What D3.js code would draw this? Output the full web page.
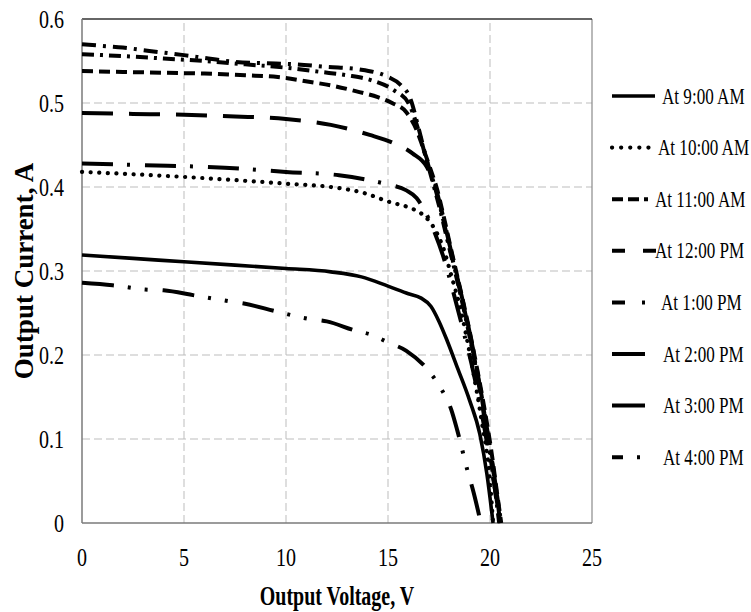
<!DOCTYPE html>
<html>
<head>
<meta charset="utf-8">
<script src="https://cdn.jsdelivr.net/npm/d3@7"></script>
<style>
  html, body { margin: 0; padding: 0; background: #fff; }
  svg { display: block; }
  text { font-family: "Liberation Serif", "Times New Roman", serif; fill: #000; }
</style>
</head>
<body>
<svg id="chart" width="751" height="612"></svg>
<script>
// I-V curves of a PV module measured at different hours of the day
const xTicks = [0, 5, 10, 15, 20, 25];
const yTicks = [0, 0.1, 0.2, 0.3, 0.4, 0.5, 0.6];
const yTickLabels = ["0", "0.1", "0.2", "0.3", "0.4", "0.5", "0.6"];
const seriesNames = ["At 9:00 AM", "At 10:00 AM", "At 11:00 AM", "At 12:00 PM",
                     "At 1:00 PM", "At 2:00 PM", "At 3:00 PM", "At 4:00 PM"];

// Output voltage (V) / output current (A) samples per hour
const v0900 = [0, 2.5, 5, 7.5, 10, 12.2, 13.7, 15, 16, 16.6, 17.1, 17.5, 17.9, 18.4, 19.0, 19.5, 19.85, 20.15];
const i0900 = [0.319, 0.315, 0.311, 0.307, 0.303, 0.299, 0.293, 0.282, 0.273, 0.268, 0.258, 0.240, 0.217, 0.185, 0.146, 0.106, 0.058, 0.0];

const v1000 = [0, 5, 10, 12.2, 13.8, 15.1, 16.1, 16.6, 17.1, 17.4, 17.7, 18.1, 18.6, 19.1, 19.6, 20.0, 20.15];
const i1000 = [0.418, 0.412, 0.404, 0.400, 0.393, 0.382, 0.375, 0.369, 0.357, 0.345, 0.328, 0.295, 0.250, 0.190, 0.120, 0.050, 0.0];

const v1100 = [0, 2, 4, 6, 8, 9.6, 11.2, 12.2, 13.6, 14.5, 15.2, 15.9, 16.4, 16.7, 17.1, 17.4, 17.7, 18.1, 18.5, 18.9, 19.3, 19.7, 20.1, 20.35, 20.55];
const i1100 = [0.538, 0.537, 0.536, 0.535, 0.533, 0.531, 0.525, 0.521, 0.513, 0.507, 0.500, 0.489, 0.468, 0.448, 0.420, 0.398, 0.368, 0.325, 0.283, 0.240, 0.192, 0.140, 0.080, 0.035, 0.0];

const v1200 = [0, 2.5, 5, 7.5, 10, 12.2, 14.1, 15.2, 16.2, 16.9, 17.3, 17.6, 18.0, 18.4, 18.8, 19.2, 19.6, 20.0, 20.3, 20.5];
const i1200 = [0.488, 0.487, 0.486, 0.484, 0.481, 0.474, 0.462, 0.453, 0.440, 0.424, 0.402, 0.375, 0.333, 0.292, 0.250, 0.203, 0.150, 0.090, 0.040, 0.0];

const v1300 = [0, 1, 2, 3.3, 5, 6.2, 7.5, 9.5, 10.5, 12, 13.6, 15, 15.6, 16.1, 16.5, 16.9, 17.3, 17.6, 18.0, 18.4, 18.8, 19.2, 19.6, 20.0, 20.3, 20.55];
const i1300 = [0.570, 0.568, 0.566, 0.562, 0.557, 0.553, 0.549, 0.547, 0.546, 0.543, 0.540, 0.531, 0.522, 0.505, 0.470, 0.432, 0.400, 0.372, 0.330, 0.290, 0.248, 0.200, 0.148, 0.088, 0.040, 0.0];

const v1400 = [0, 3, 7, 10, 12.6, 14.1, 15, 15.9, 16.4, 16.7, 17.0, 17.3, 17.7, 18.2, 18.7, 19.2, 19.6, 20.0, 20.3, 20.5];
const i1400 = [0.428, 0.426, 0.423, 0.418, 0.414, 0.408, 0.403, 0.396, 0.387, 0.376, 0.362, 0.345, 0.318, 0.275, 0.228, 0.178, 0.130, 0.075, 0.032, 0.0];

const v1500 = [0, 1.5, 3.1, 4.0, 5.5, 7.2, 8.0, 9.5, 11.1, 12.0, 13.4, 14.2, 15.0, 15.9, 17.1, 17.6, 18.1, 18.4, 18.9, 19.2, 19.55];
const i1500 = [0.286, 0.283, 0.278, 0.277, 0.271, 0.264, 0.261, 0.252, 0.243, 0.240, 0.229, 0.224, 0.215, 0.205, 0.178, 0.160, 0.135, 0.110, 0.062, 0.036, 0.0];

const v1600 = [0, 1, 2.6, 4, 6, 8, 10, 11.7, 13, 14.2, 15.3, 16.0, 16.4, 16.8, 17.2, 17.5, 17.9, 18.3, 18.7, 19.1, 19.5, 19.9, 20.2, 20.45];
const i1600 = [0.558, 0.557, 0.555, 0.553, 0.550, 0.546, 0.542, 0.537, 0.533, 0.527, 0.515, 0.500, 0.475, 0.440, 0.405, 0.378, 0.338, 0.298, 0.256, 0.210, 0.158, 0.098, 0.048, 0.0];

const voltages = [v0900, v1000, v1100, v1200, v1300, v1400, v1500, v1600];
const currents = [i0900, i1000, i1100, i1200, i1300, i1400, i1500, i1600];

// Line styles: dash pattern in the plot, and the sample drawn in the legend
const styles = [
  { dash: null,                  cap: "butt",  lw: 3.6, legendDash: null,                 legendLen: 43, textX: 662 },
  { dash: "0.1,8.5",             cap: "round", lw: 4.2, legendDash: "0.1,9",              legendLen: 38, textX: 658 },
  { dash: "11,6",                cap: "butt",  lw: 4,   legendDash: "11,5,11,5,4,20",      legendLen: 40, textX: 655 },
  { dash: "31,16",               cap: "butt",  lw: 4,   legendDash: "13,18,13,20",         legendLen: 44, textX: 655 },
  { dash: "14,7,3,7",            cap: "butt",  lw: 4,   legendDash: "13,17,3,20",          legendLen: 34, textX: 661 },
  { dash: "31,14,3,15",          cap: "butt",  lw: 4,   legendDash: null,                 legendLen: 33, textX: 663 },
  { dash: "32,14,3,14,3,15",     cap: "butt",  lw: 4,   legendDash: null,                 legendLen: 33, textX: 663 },
  { dash: "12,6,3,6",            cap: "butt",  lw: 4,   legendDash: "11,14,3,20",          legendLen: 31, textX: 663 }
];

const svg = d3.select("#chart");
svg.append("rect").attr("width", 751).attr("height", 612).attr("fill", "#fff");

const x = d3.scaleLinear().domain([0, 25]).range([82, 592]);
const y = d3.scaleLinear().domain([0, 0.6]).range([523, 19]);

// Grid
const grid = svg.append("g");
grid.selectAll("line.gx").data(xTicks.filter(d => d > 0 && d < 25)).join("line")
  .attr("x1", d => x(d)).attr("x2", d => x(d))
  .attr("y1", y(0)).attr("y2", y(0.6))
  .attr("stroke", "#bdbdbd").attr("stroke-width", 1).attr("stroke-dasharray", "8,4");
grid.selectAll("line.gy").data(yTicks.filter(d => d > 0 && d < 0.6)).join("line")
  .attr("x1", x(0)).attr("x2", x(25))
  .attr("y1", d => y(d)).attr("y2", d => y(d))
  .attr("stroke", "#bdbdbd").attr("stroke-width", 1).attr("stroke-dasharray", "8,4");

// Frame
svg.append("line").attr("x1", x(25)).attr("x2", x(25)).attr("y1", y(0)).attr("y2", y(0.6))
  .attr("stroke", "#8a8a8a").attr("stroke-width", 1.2);
svg.append("line").attr("x1", x(0)).attr("x2", x(25)).attr("y1", y(0.6)).attr("y2", y(0.6))
  .attr("stroke", "#333").attr("stroke-width", 1.3);
svg.append("line").attr("x1", x(0)).attr("x2", x(0)).attr("y1", y(0)).attr("y2", y(0.6))
  .attr("stroke", "#7a7a7a").attr("stroke-width", 1.5);
svg.append("line").attr("x1", x(0)).attr("x2", x(25)).attr("y1", y(0)).attr("y2", y(0))
  .attr("stroke", "#7a7a7a").attr("stroke-width", 1.5);

// Tick labels (narrow serif)
svg.append("g").selectAll("text").data(xTicks).join("text")
  .attr("transform", d => `translate(${x(d)},566) scale(0.77,1)`)
  .attr("text-anchor", "middle")
  .attr("font-size", 26)
  .text(d => d);
svg.append("g").selectAll("text").data(yTicks).join("text")
  .attr("transform", d => `translate(64,${y(d) + 8.5}) scale(0.77,1)`)
  .attr("text-anchor", "end")
  .attr("font-size", 26)
  .text((d, i) => yTickLabels[i]);

// Axis titles
svg.append("text")
  .attr("transform", `translate(${(x(0) + x(25)) / 2},605) scale(0.74,1)`)
  .attr("text-anchor", "middle").attr("font-size", 27).attr("font-weight", "bold")
  .text("Output Voltage, V");
svg.append("text")
  .attr("transform", `translate(33,${(y(0) + y(0.6)) / 2}) rotate(-90)`)
  .attr("text-anchor", "middle").attr("font-size", 27).attr("font-weight", "bold")
  .text("Output Current, A");

// Curves
const line = d3.line()
  .x(d => x(d[0])).y(d => y(d[1]))
  .curve(d3.curveMonotoneX);

const plot = svg.append("g");
seriesNames.forEach((name, k) => {
  const pts = voltages[k].map((v, j) => [v, currents[k][j]]);
  const st = styles[k];
  plot.append("path")
    .datum(pts)
    .attr("d", line)
    .attr("fill", "none")
    .attr("stroke", "#000")
    .attr("stroke-width", st.lw)
    .attr("stroke-linecap", st.cap)
    .attr("stroke-linejoin", "round")
    .attr("stroke-dasharray", st.dash);
});

// Legend
const legend = svg.append("g");
seriesNames.forEach((name, k) => {
  const st = styles[k];
  const cy = 96 + k * 51.6;
  legend.append("line")
    .attr("x1", 612).attr("x2", 612 + st.legendLen)
    .attr("y1", cy).attr("y2", cy)
    .attr("stroke", "#000")
    .attr("stroke-width", st.lw)
    .attr("stroke-linecap", st.cap)
    .attr("stroke-dasharray", st.legendDash);
  legend.append("text")
    .attr("transform", `translate(${st.textX},${cy + 7.5}) scale(0.76,1)`)
    .attr("font-size", 22.5)
    .text(name);
});
</script>
</body>
</html>
